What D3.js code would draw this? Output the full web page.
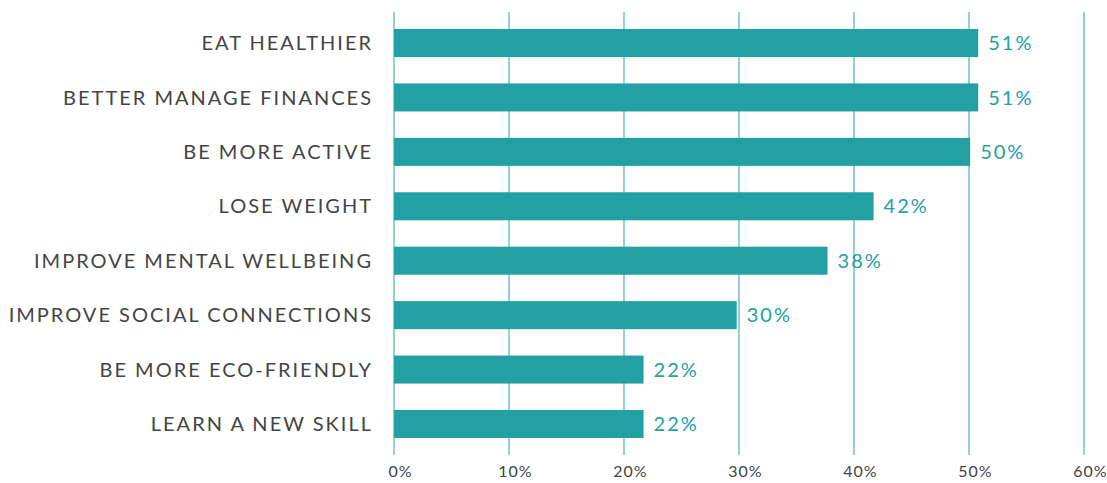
<!DOCTYPE html>
<html>
<head>
<meta charset="utf-8">
<script src="https://cdn.jsdelivr.net/npm/d3@7"></script>
<style>
  body { margin: 0; background: #fff; }
  text { font-family: Lato, "Open Sans", sans-serif; }
</style>
</head>
<body>
<div id="chart"></div>
<script>
// data
const categories = ["EAT HEALTHIER", "BETTER MANAGE FINANCES", "BE MORE ACTIVE", "LOSE WEIGHT",
    "IMPROVE MENTAL WELLBEING", "IMPROVE SOCIAL CONNECTIONS", "BE MORE ECO-FRIENDLY", "LEARN A NEW SKILL"];
const values = [50.8, 50.8, 50.1, 41.7, 37.7, 29.8, 21.7, 21.7];
const valueLabels = ["51%", "51%", "50%", "42%", "38%", "30%", "22%", "22%"];
const ticks = [0, 10, 20, 30, 40, 50, 60];

const width = 1107, height = 483;
const barColor = "#22a0a3", gridColor = "#92d2d4", textColor = "#444";

const svg = d3.select("#chart").append("svg")
    .attr("width", width)
    .attr("height", height);

const x = d3.scaleLinear()
    .domain([0, 60])
    .range([394, 1084]);

const y = d3.scaleBand()
    .domain(categories)
    .range([15.8, 451.2])
    .paddingInner(0.485)
    .paddingOuter(0.2425);

// vertical grid lines
svg.append("g")
    .selectAll("line")
    .data(ticks)
    .join("line")
    .attr("x1", d => x(d))
    .attr("x2", d => x(d))
    .attr("y1", 12)
    .attr("y2", 455)
    .attr("stroke", gridColor)
    .attr("stroke-width", 2);

// x axis labels
const xAxis = d3.axisBottom(x)
    .tickValues(ticks)
    .tickFormat(d => d + "%")
    .tickSize(0)
    .tickPadding(0);

svg.append("g")
    .attr("transform", "translate(6, 466)")
    .call(xAxis)
    .call(g => g.select(".domain").remove())
    .selectAll("text")
    .style("font-family", "Lato, sans-serif")
    .style("font-size", "16px")
    .style("letter-spacing", "1px")
    .attr("fill", textColor);

// bars
svg.append("g")
    .selectAll("rect")
    .data(categories)
    .join("rect")
    .attr("x", x(0))
    .attr("y", d => y(d))
    .attr("width", (d, i) => x(values[i]) - x(0))
    .attr("height", y.bandwidth())
    .attr("fill", barColor);

// category labels
svg.append("g")
    .selectAll("text")
    .data(categories)
    .join("text")
    .attr("x", 373)
    .attr("y", d => y(d) + y.bandwidth() / 2)
    .attr("dy", "0.36em")
    .attr("text-anchor", "end")
    .style("font-size", "20px")
    .style("letter-spacing", "2px")
    .attr("fill", textColor)
    .text(d => d);

// value labels
svg.append("g")
    .selectAll("text")
    .data(categories)
    .join("text")
    .attr("x", (d, i) => x(values[i]) + 10)
    .attr("y", d => y(d) + y.bandwidth() / 2)
    .attr("dy", "0.36em")
    .style("font-size", "20px")
    .style("letter-spacing", "2px")
    .attr("fill", barColor)
    .text((d, i) => valueLabels[i]);
</script>
</body>
</html>
